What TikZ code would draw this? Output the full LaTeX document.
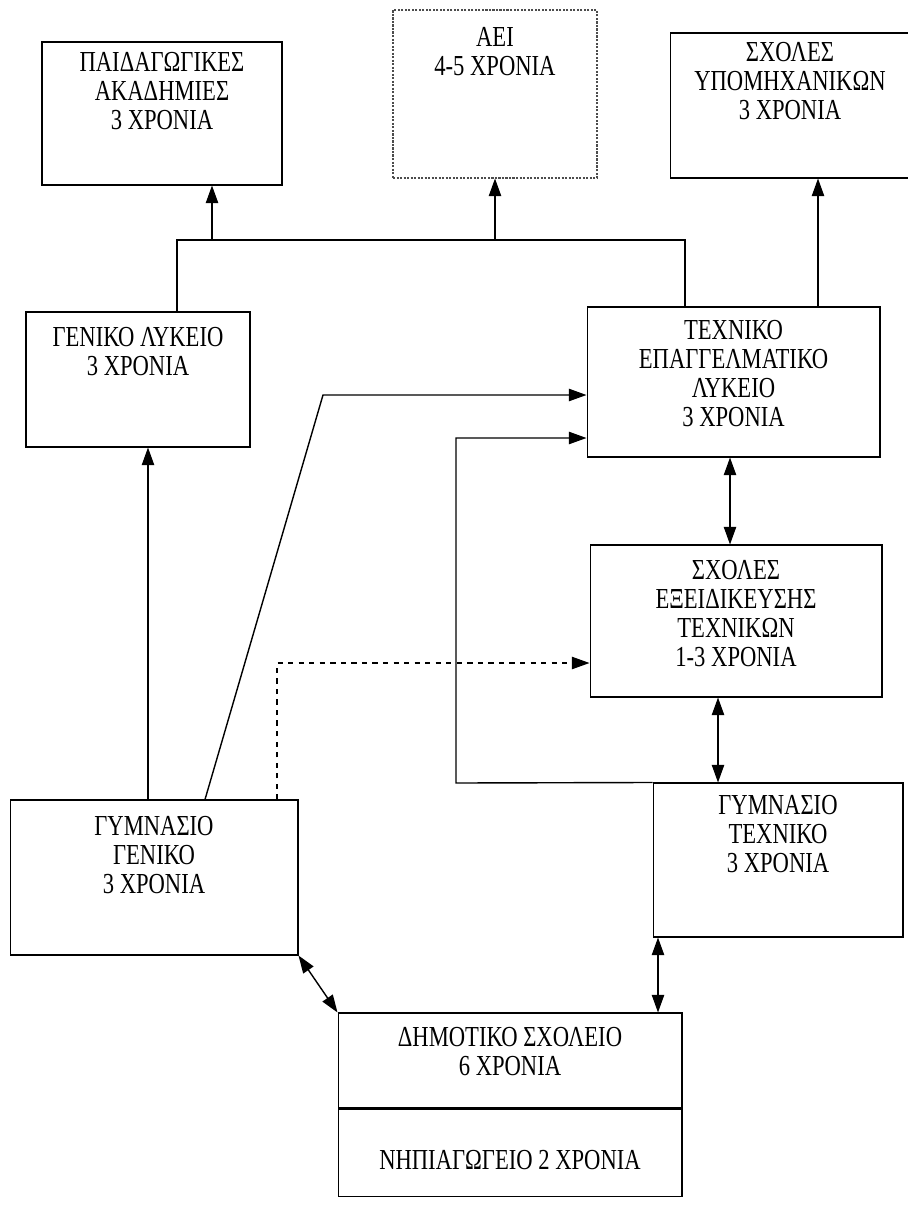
\documentclass[tikz,border=0pt]{standalone}
\usepackage{fontspec}
\setmainfont{Liberation Serif}
\newfontfamily\narrowserif[FakeStretch=0.78]{Liberation Serif}
\usetikzlibrary{arrows.meta, positioning}
\tikzstyle{box}=[rectangle, draw=black, line width=0.6pt, inner sep=0pt]
\tikzstyle{dotbox}=[box, draw=black!70, dash pattern=on 1.2pt off 0.8pt]
\tikzstyle{boxtext}=[anchor=north, align=center, inner sep=0pt, font=\narrowserif\fontsize{16.5}{16.5}\selectfont]
\tikzstyle{link}=[line width=0.8pt, -{Triangle[length=10pt, width=7pt]}]
\tikzstyle{twoway}=[line width=0.8pt, {Triangle[length=10pt, width=7pt]}-{Triangle[length=10pt, width=7pt]}]

\begin{document}
\begin{tikzpicture}[x=0.02cm, y=-0.02cm]
  \useasboundingbox (0,0) rectangle (907,1220);
  % higher level
  \node[box, minimum width=4.8cm, minimum height=2.86cm] (pedak) at (162,113.5)
    [label={[boxtext, yshift=-0.2cm]north:ΠΑΙΔΑΓΩΓΙΚΕΣ\\ΑΚΑΔΗΜΙΕΣ\\3 ΧΡΟΝΙΑ}] {};
  \node[dotbox, minimum width=4.08cm, minimum height=3.36cm] (aei) at (495,94)
    [label={[boxtext, yshift=-0.36cm]north:ΑΕΙ\\4-5 ΧΡΟΝΙΑ}] {};
  \node[box, minimum width=4.8cm, minimum height=2.9cm] (ypom) at (790,105.5)
    [label={[boxtext, yshift=-0.18cm]north:ΣΧΟΛΕΣ\\ΥΠΟΜΗΧΑΝΙΚΩΝ\\3 ΧΡΟΝΙΑ}] {};

  % lyceum
  \node[box, minimum width=4.48cm, minimum height=2.7cm] (genlyk) at (138,379.5)
    [label={[boxtext, yshift=-0.3cm]north:ΓΕΝΙΚΟ ΛΥΚΕΙΟ\\3 ΧΡΟΝΙΑ}] {};
  \node[box, minimum width=5.86cm, minimum height=3.0cm] (teplyk) at (733.5,382)
    [label={[boxtext, yshift=-0.26cm]north:ΤΕΧΝΙΚΟ\\ΕΠΑΓΓΕΛΜΑΤΙΚΟ\\ΛΥΚΕΙΟ\\3 ΧΡΟΝΙΑ}] {};
  \node[box, minimum width=5.84cm, minimum height=3.04cm] (sxex) at (736,621)
    [label={[boxtext, yshift=-0.3cm]north:ΣΧΟΛΕΣ\\ΕΞΕΙΔΙΚΕΥΣΗΣ\\ΤΕΧΝΙΚΩΝ\\1-3 ΧΡΟΝΙΑ}] {};

  % gymnasium
  \node[box, minimum width=5.76cm, minimum height=3.1cm] (gymgen) at (154,877.5)
    [label={[boxtext, yshift=-0.32cm]north:ΓΥΜΝΑΣΙΟ\\ΓΕΝΙΚΟ\\3 ΧΡΟΝΙΑ}] {};
  \node[box, minimum width=5.0cm, minimum height=3.08cm] (gymtex) at (778,860)
    [label={[boxtext, yshift=-0.24cm]north:ΓΥΜΝΑΣΙΟ\\ΤΕΧΝΙΚΟ\\3 ΧΡΟΝΙΑ}] {};

  % primary
  \node[box, minimum width=6.88cm, minimum height=1.9cm] (dim) at (510,1060.5)
    [label={[boxtext, yshift=-0.28cm]north:ΔΗΜΟΤΙΚΟ ΣΧΟΛΕΙΟ\\6 ΧΡΟΝΙΑ}] {};
  \node[box, minimum width=6.88cm, minimum height=1.74cm, below=0pt of dim] (nipi)
    [label={[boxtext, yshift=-0.82cm]north:ΝΗΠΙΑΓΩΓΕΙΟ 2 ΧΡΟΝΙΑ}] {};

  % connectors
  \coordinate (busL) at (177,240);
  \coordinate (busR) at (685,240);
  \draw[line width=0.8pt] (genlyk.north -| busL) -- (busL) -- (busR) -- (teplyk.north -| busR);
  \draw[link] (busL -| 212,0) -- (pedak.south -| 212,0);
  \draw[link] (busL -| aei.south) -- (aei.south);
  \draw[link] (teplyk.north -| 818,0) -- (ypom.south -| 818,0);
  \draw[link] (gymgen.north -| 148,0) -- (genlyk.south -| 148,0);

  \coordinate (k1) at (323,395);
  \draw[link] (gymgen.north -| 205,0) -- (k1) -- (k1 -| teplyk.west);
  \coordinate (k2) at (456,783);
  \draw[link] (gymtex.north west) -- (k2) -- (k2 |- 0,438) -- (teplyk.west |- 0,438);
  \coordinate (k3) at (277,663);
  \draw[link, dashed] (gymgen.north -| k3) -- (k3) -- (k3 -| sxex.west);

  \draw[twoway] (teplyk.south -| 730,0) -- (sxex.north -| 730,0);
  \draw[twoway] (sxex.south -| 718,0) -- (gymtex.north -| 718,0);
  \draw[twoway] (gymgen.south east) -- (dim.north west);
  \draw[twoway] (gymtex.south -| 658,0) -- (dim.north -| 658,0);
\end{tikzpicture}
\end{document}
